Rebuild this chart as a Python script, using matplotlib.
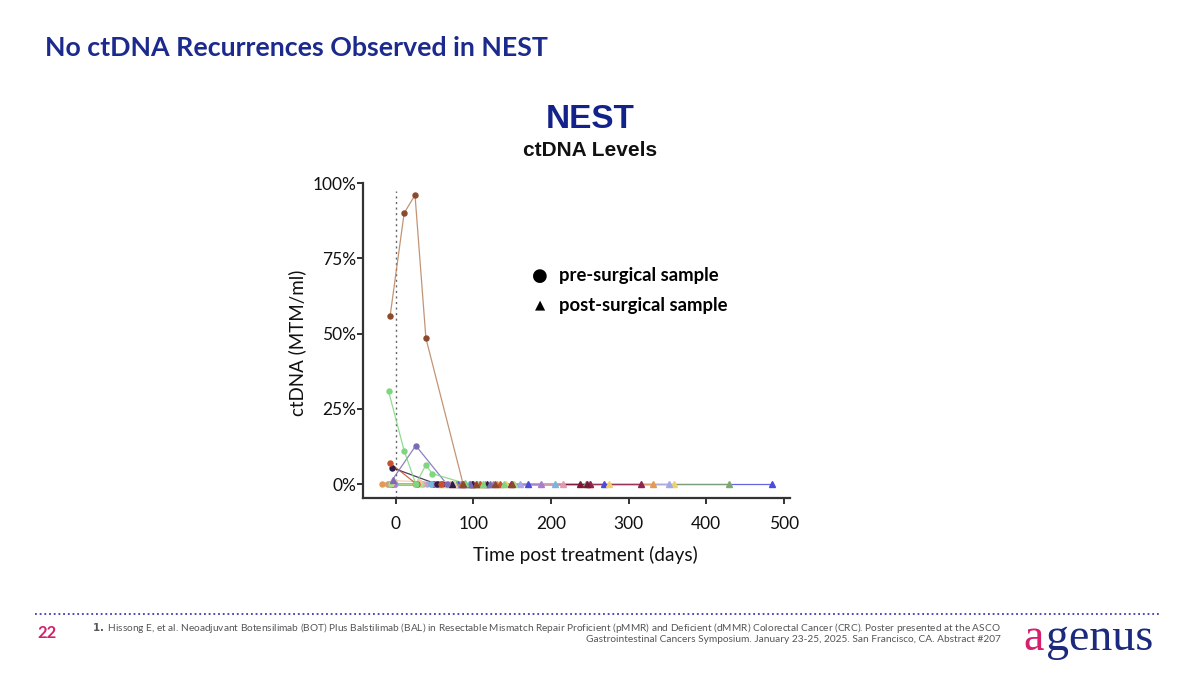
import matplotlib
matplotlib.use("Agg")
import matplotlib.pyplot as plt
from matplotlib.lines import Line2D

# ---------------- data ----------------
y_ticks = [0, 25, 50, 75, 100]
y_tick_labels = ["0%", "25%", "50%", "75%", "100%"]
x_ticks = [0, 100, 200, 300, 400, 500]

# each patient: colour, days, ctDNA %, sample kind (pre / post surgery)
blue_days = [-5, 55, 80, 170, 269, 485]
blue_vals = [0, 0, 0, 0, 0, 0]
blue_kind = ["pre", "pre", "post", "post", "post", "post"]

olive_days = [-3, 48, 78, 115, 245, 429]
olive_vals = [0, 0, 0, 0, 0, 0]
olive_kind = ["pre", "pre", "post", "post", "post", "post"]

yellow_days = [-11, 30, 62, 142, 275, 359]
yellow_vals = [0, 0, 0, 0, 0, 0]
yellow_kind = ["pre", "pre", "post", "post", "post", "post"]

lavender_days = [-8, 40, 86, 160, 352]
lavender_vals = [0, 0, 0, 0, 0]
lavender_kind = ["pre", "pre", "post", "post", "post"]

orange_days = [-17, 25, 45, 130, 250, 331]
orange_vals = [0, 0, 0, 0, 0, 0]
orange_kind = ["pre", "pre", "pre", "post", "post", "post"]

maroon_days = [-6, 50, 90, 148, 251, 316]
maroon_vals = [0, 0, 0, 0, 0, 0]
maroon_kind = ["pre", "pre", "post", "post", "post", "post"]

darkmaroon_days = [-3, 60, 100, 238, 246]
darkmaroon_vals = [0, 0, 0, 0, 0]
darkmaroon_kind = ["pre", "pre", "post", "post", "post"]

lightblue_days = [-1, 45, 95, 205]
lightblue_vals = [0, 0, 0, 0]
lightblue_kind = ["pre", "pre", "post", "post"]

pink_days = [-2, 35, 70, 105, 216]
pink_vals = [0, 0, 0, 0, 0]
pink_kind = ["pre", "pre", "post", "post", "post"]

lilac_days = [-2, 52, 84, 125, 187]
lilac_vals = [0, 0, 0, 0, 0]
lilac_kind = ["pre", "pre", "post", "post", "post"]

tan_days = [-10, 28, 57, 98]
tan_vals = [0, 0, 0, 0]
tan_kind = ["pre", "pre", "post", "post"]

palegreen_days = [-6, 33, 67, 108, 152]
palegreen_vals = [0, 0, 0, 0, 0]
palegreen_kind = ["pre", "pre", "post", "post", "post"]

peach_days = [-4, 30, 75, 112]
peach_vals = [1.2, 0.8, 0, 0]
peach_kind = ["pre", "pre", "post", "post"]

navy_days = [-5, 53, 72, 99, 118]
navy_vals = [5.5, 0, 0, 0, 0]
navy_kind = ["pre", "pre", "post", "post", "post"]

redorange_days = [-7, 27, 58, 85, 109, 135]
redorange_vals = [7.0, 0, 0, 0, 0, 0]
redorange_kind = ["pre", "pre", "pre", "post", "post", "post"]

purple_days = [-4, 26, 66, 96, 122]
purple_vals = [1.5, 12.8, 0, 0, 0]
purple_kind = ["post", "pre", "pre", "post", "post"]

green_days = [-9, 11, 26, 39, 47, 89, 113, 140]
green_vals = [30.8, 11.1, 0, 6.4, 3.5, 0.3, 0, 0]
green_kind = ["pre", "pre", "pre", "pre", "pre", "post", "post", "post"]

brown_days = [-7, 11, 25, 39, 87, 104, 128, 150]
brown_vals = [56, 90, 96, 48.5, 0, 0, 0, 0]
brown_kind = ["pre", "pre", "pre", "pre", "post", "post", "post", "post"]

patients = [
    ("#4B4BE0", blue_days, blue_vals, blue_kind),
    ("#7FAA6C", olive_days, olive_vals, olive_kind),
    ("#EFD36A", yellow_days, yellow_vals, yellow_kind),
    ("#A3A8EA", lavender_days, lavender_vals, lavender_kind),
    ("#E39A52", orange_days, orange_vals, orange_kind),
    ("#8E2452", maroon_days, maroon_vals, maroon_kind),
    ("#7A1838", darkmaroon_days, darkmaroon_vals, darkmaroon_kind),
    ("#72B9DF", lightblue_days, lightblue_vals, lightblue_kind),
    ("#E59AAE", pink_days, pink_vals, pink_kind),
    ("#A67FC8", lilac_days, lilac_vals, lilac_kind),
    ("#C8A07A", tan_days, tan_vals, tan_kind),
    ("#A9DE8E", palegreen_days, palegreen_vals, palegreen_kind),
    ("#F3C9A8", peach_days, peach_vals, peach_kind),
    ("#2B1B45", navy_days, navy_vals, navy_kind),
    ("#C8502A", redorange_days, redorange_vals, redorange_kind),
    ("#7A6BB5", purple_days, purple_vals, purple_kind),
    ("#7FD67F", green_days, green_vals, green_kind),
    ("#8B4A2B", brown_days, brown_vals, brown_kind),
]

# ---------------- figure ----------------
fig = plt.figure(figsize=(12, 6.75), dpi=100)
fig.patch.set_facecolor("white")

ax = fig.add_axes([363 / 1200, 1 - 498 / 675, (790 - 363) / 1200, (498 - 183) / 675])
ax.set_xlim(-42, 508)
ax.set_ylim(-4.6, 100)

ax.axvline(0, ymin=0, ymax=0.975, color="#666666", lw=1.0, ls=(0, (1.5, 2.5)), zorder=1)

for color, days, vals, kinds in patients:
    line_color = "#B8825E" if color == "#8B4A2B" else color
    ax.plot(days, vals, color=line_color, lw=0.9, alpha=0.85, zorder=2)
    for d, v, k in zip(days, vals, kinds):
        ax.plot([d], [v], marker="o" if k == "pre" else "^", color=color,
                markersize=3.6 if k == "pre" else 4.2, lw=0, zorder=3)

for s in ["top", "right"]:
    ax.spines[s].set_visible(False)
for s in ["left", "bottom"]:
    ax.spines[s].set_color("#333333")
    ax.spines[s].set_linewidth(1.6)
ax.spines["left"].set_bounds(-4.6, 100)

tick_font = dict(family=["Lato", "DejaVu Sans"], size=12.5)
ax.set_yticks(y_ticks)
ax.set_yticklabels(y_tick_labels, **tick_font)
ax.set_xticks(x_ticks)
ax.set_xticklabels([str(t) for t in x_ticks], **tick_font)
ax.tick_params(axis="both", direction="out", length=4, width=1.4, color="#333333",
               labelcolor="#111111")
ax.tick_params(axis="y", pad=1)
ax.tick_params(axis="x", pad=9)

fig.text(585 / 1200, 1 - 555 / 675, "Time post treatment (days)", ha="center", va="center",
         family=["Lato", "DejaVu Sans"], size=13.8, color="#111111")
fig.text(297 / 1200, 1 - 343 / 675, "ctDNA (MTM/ml)", ha="center", va="center", rotation=90,
         family=["Lato", "DejaVu Sans"], size=13.5, color="#111111")

# legend (text style)
fig.text(540 / 1200, 1 - 276 / 675, "\u25CF", ha="center", va="center", size=13,
         family="DejaVu Sans", color="black")
fig.text(540 / 1200, 1 - 305 / 675, "\u25B2", ha="center", va="center", size=9.5,
         family="DejaVu Sans", color="black")
fig.text(559 / 1200, 1 - 276 / 675, "pre-surgical sample", ha="left", va="center",
         family=["Lato", "DejaVu Sans"], weight="bold", size=13.3, color="black")
fig.text(559 / 1200, 1 - 305 / 675, "post-surgical sample", ha="left", va="center",
         family=["Lato", "DejaVu Sans"], weight="bold", size=13.3, color="black")

# titles
fig.text(45 / 1200, 1 - 48 / 675, "No ctDNA Recurrences Observed in NEST", ha="left", va="center",
         family=["Lato", "DejaVu Sans"], weight="bold", size=19.3, color="#1B2A8C")
fig.text(590 / 1200, 1 - 119 / 675, "NEST", ha="center", va="center",
         family=["Liberation Sans", "DejaVu Sans"], weight="bold", size=24, color="#13228A")
fig.text(590 / 1200, 1 - 150 / 675, "ctDNA Levels", ha="center", va="center",
         family=["Liberation Sans", "DejaVu Sans"], weight="bold", size=15, color="#111111")

# footer
fig.add_artist(Line2D([35 / 1200, 1160 / 1200], [1 - 614 / 675, 1 - 614 / 675],
                      color="#3A3AB8", lw=1.3, ls=(0, (1, 1.6))))
fig.text(37 / 1200, 1 - 633 / 675, "22", ha="left", va="center",
         family=["Lato", "DejaVu Sans"], weight="bold", size=12, color="#D6206B")
fig.text(1001 / 1200, 1 - 628 / 675,
         "$\\bf{1.}$ Hissong E, et al. Neoadjuvant Botensilimab (BOT) Plus Balstilimab (BAL) in Resectable "
         "Mismatch Repair Proficient (pMMR) and Deficient (dMMR) Colorectal Cancer (CRC). Poster presented at the ASCO",
         ha="right", va="center", family=["Lato", "DejaVu Sans"], size=7.3, color="#555555")
fig.text(1001 / 1200, 1 - 640 / 675,
         "Gastrointestinal Cancers Symposium. January 23-25, 2025. San Francisco, CA. Abstract #207",
         ha="right", va="center", family=["Lato", "DejaVu Sans"], size=7.3, color="#555555")
fig.text(1023 / 1200, 1 - 639 / 675, "a", ha="left", va="center",
         family=["Liberation Serif", "DejaVu Serif"], size=33, color="#D6206B")
fig.text(1046 / 1200, 1 - 639 / 675, "genus", ha="left", va="center",
         family=["Liberation Serif", "DejaVu Serif"], size=33, color="#1B2A7C")

fig.savefig("out.png", dpi=100, facecolor="white")
